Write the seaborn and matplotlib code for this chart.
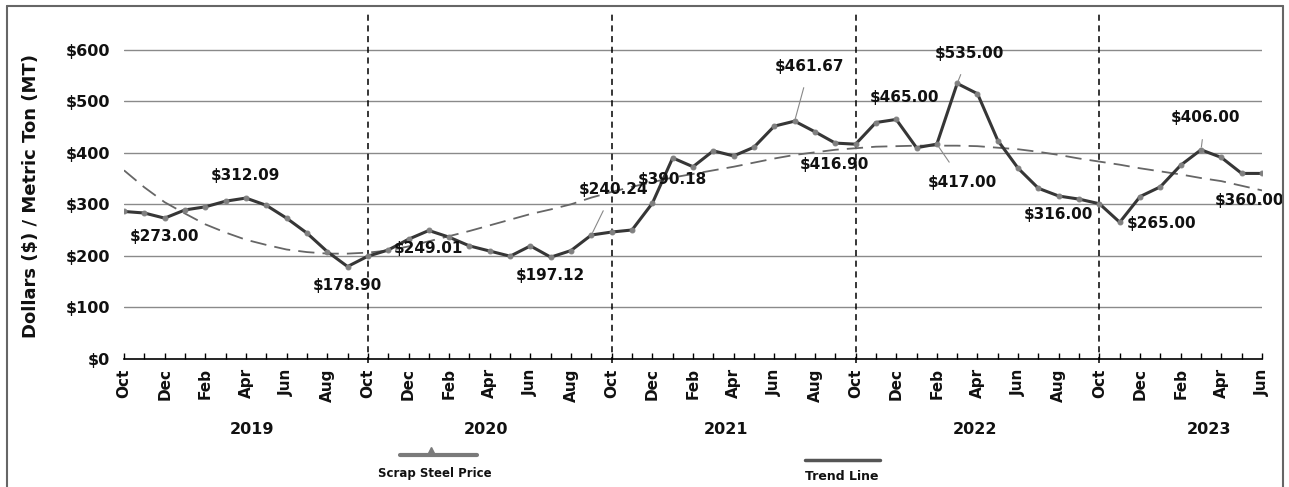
import numpy as np
import pandas as pd
import matplotlib.pyplot as plt
import seaborn as sns
from matplotlib.lines import Line2D
from matplotlib.ticker import FixedLocator, MultipleLocator

# --- data ---
months = pd.date_range('2018-10-01', '2023-06-01', freq='MS')
prices = [286, 283, 273.00, 289, 295, 306, 312.09, 298, 273, 244, 208, 178.90,
          199, 211, 232, 249.01, 236, 219, 209, 199, 219, 197.12, 210, 240.24,
          246, 250, 302, 390.18, 373, 404, 394, 411, 452, 461.67, 441, 419,
          416.90, 459, 465.00, 410, 417.00, 535.00, 515, 424, 370, 331, 316.00, 310,
          301, 265.00, 315, 334, 376, 406.00, 391, 360, 360.00]
# dashed trend line
trend = [366, 333, 304, 282, 261, 245, 231, 221, 212, 207, 204, 204,
         206, 210, 218, 228, 238, 248, 259, 270, 281, 290, 300, 313,
         324, 334, 343, 352, 359, 366, 373, 381, 389, 396, 401, 406,
         409, 412, 413, 414, 414, 414, 413, 410, 407, 402, 396, 389,
         383, 377, 370, 364, 358, 351, 345, 336, 327]
labeled_idx = [2, 6, 11, 15, 21, 23, 27, 33, 36, 38, 40, 41, 46, 49, 53, 56]
years = ['2019', '2020', '2021', '2022', '2023']
year_starts = [0, 12, 24, 36, 48]
year_label_pos = [6.3, 17.8, 29.6, 41.9, 53.4]

df = pd.DataFrame({'idx': np.arange(len(months)), 'month': months,
                   'price': prices, 'trend': trend})

# label placement (pixel offsets from the point) and whether a leader line is drawn
label_offsets = [(0, -18), (0, 23), (0, -19), (0, -18), (0, -18), (22, 45), (0, -22), (15, 55),
                 (-21, -20), (8, 22), (26, -38), (12, 30), (0, -18), (42, -1), (4, 32), (-12, -27)]
label_leader = [False, True, False, False, False, True, False, True,
                False, True, True, True, False, False, True, False]

sns.set_theme(style='white')
plt.rcParams['font.family'] = ['DejaVu Sans']
plt.rcParams['font.weight'] = 'bold'
plt.rcParams['text.color'] = '#111111'
plt.rcParams['xtick.color'] = '#111111'
plt.rcParams['ytick.color'] = '#111111'
plt.rcParams['axes.labelcolor'] = '#111111'

W, H = 1289, 487
fig = plt.figure(figsize=(W / 100, H / 100), dpi=100)
ax = fig.add_axes([124 / W, 1 - 358.5 / H, (1262 - 124) / W, (358.5 - 12) / H])

# gridlines
for v in range(100, 700, 100):
    ax.axhline(v, color='#8a8a8a', lw=1, zorder=0)

# year separators
for s in year_starts[1:]:
    ax.axvline(s, ymin=-0.012, ymax=1, color='black', ls=(0, (4, 3)), lw=1.1, clip_on=False, zorder=1)

sns.lineplot(data=df, x='idx', y='trend', ax=ax, color='#666666', lw=1.3,
             linestyle=(0, (9, 4.5)), zorder=2)
sns.lineplot(data=df, x='idx', y='price', ax=ax, color='#363636', lw=2.2,
             marker='o', markersize=3.5, markerfacecolor='#808080',
             markeredgecolor='#808080', zorder=3)

# data labels
for i, (dx, dy), lead in zip(labeled_idx, label_offsets, label_leader):
    ap = dict(arrowstyle='-', color='#888888', lw=0.8, shrinkA=8, shrinkB=2) if lead else None
    ax.annotate(f'${prices[i]:.2f}', xy=(i, prices[i]), xytext=(dx, dy),
                textcoords='offset pixels', ha='center', va='center',
                fontsize=11, fontweight='bold', color='#111111', arrowprops=ap, zorder=4)

ax.set_xlim(0, len(months) - 1)
ax.set_ylim(0, 674)
ax.set_yticks(range(0, 700, 100))
ax.set_yticklabels([f'${v}' for v in range(0, 700, 100)], fontsize=11.5, fontweight='bold')
ax.tick_params(axis='y', length=0, pad=10)

tick_pos = list(range(0, len(months), 2))
ax.xaxis.set_major_locator(FixedLocator(tick_pos))
ax.xaxis.set_minor_locator(MultipleLocator(1))
ax.set_xticklabels([months[i].strftime('%b') for i in tick_pos], rotation=90,
                   fontsize=11, fontweight='bold')
ax.tick_params(axis='x', which='both', direction='in', length=4, width=1, color='black',
               bottom=True, pad=7)

ax.set_xlabel('')
ax.set_ylabel('Dollars ($) / Metric Ton (MT)', fontsize=13, fontweight='bold')
ax.yaxis.set_label_coords(-0.074, 0.47)

for spine in ['top', 'right', 'left']:
    ax.spines[spine].set_visible(False)
ax.spines['bottom'].set_color('black')
ax.spines['bottom'].set_linewidth(1.2)

# year labels under the month ticks
for yr, pos in zip(years, year_label_pos):
    ax.text(pos, -0.205, yr, transform=ax.get_xaxis_transform(), ha='center', va='center',
            fontsize=11.5, fontweight='bold')

# legend drawn with the symbol above its text
def fx(px):
    return px / W

def fy(py):
    return 1 - py / H

fig.add_artist(Line2D([fx(400), fx(477)], [fy(455), fy(455)], color='#7a7a7a', lw=3))
fig.add_artist(Line2D([fx(431)], [fy(451)], color='#7a7a7a', marker='^', markersize=6, lw=0))
fig.text(fx(435), fy(474), 'Scrap Steel Price', ha='center', va='center', fontsize=8.5, fontweight='bold')
fig.add_artist(Line2D([fx(805), fx(880)], [fy(460), fy(460)], color='#555555', lw=2.5))
fig.text(fx(842), fy(476), 'Trend Line', ha='center', va='center', fontsize=9, fontweight='bold')

# outer frame
fig.add_artist(Line2D([fx(7), fx(7)], [fy(6), 0], color='#666666', lw=1.5))
fig.add_artist(Line2D([fx(7), fx(1283)], [fy(6), fy(6)], color='#666666', lw=1.5))
fig.add_artist(Line2D([fx(1283), fx(1283)], [fy(6), 0], color='#666666', lw=1.5))

plt.savefig('out.png', dpi=100)
plt.close()
